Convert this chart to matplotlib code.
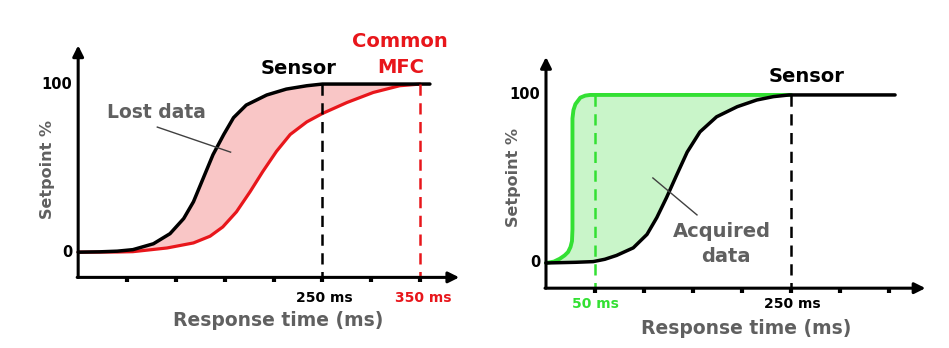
import matplotlib.pyplot as plt
import numpy as np

RED = "#e8161b"
GREEN = "#33e033"
GRAY = "#606060"

# left panel: sensor vs common MFC (time ms, setpoint %)
left_t_sensor = [0, 22, 40, 56, 77, 94, 108, 118, 128, 138, 149, 159, 172, 193, 213, 234, 250, 360]
left_sensor = [0, 0.2, 0.6, 1.5, 5, 11, 20, 30, 44, 58, 70, 80, 87.5, 93.5, 97, 99, 100, 100]
left_t_mfc = [0, 40, 56, 91, 118, 135, 148, 162, 176, 189, 203, 217, 234, 250, 275, 302, 329, 350]
left_mfc = [0, 0.1, 0.3, 2.5, 5.5, 9.5, 15, 24, 36, 48, 60, 70, 77.5, 82.5, 89, 95, 99, 100]

# right panel: fast device vs sensor
right_t_fast = [0, 8, 14, 19, 22.5, 25, 26.5, 27, 27, 27, 28, 30, 35, 40, 45, 250]
right_fast = [0, 0.8, 2.5, 4.5, 6.5, 9.5, 13, 20, 50, 86, 91, 94.5, 98.4, 99.6, 100, 100]
right_t_sensor = [0, 30, 48, 60, 72, 89, 103, 113, 123, 133, 144, 157, 174, 195, 215, 232, 248, 356]
right_sensor = [0, 0.4, 0.8, 2.2, 4.5, 9, 17, 27, 39, 52, 66, 78, 87, 93, 97, 99, 100, 100]

tick_ms = [50, 100, 150, 200, 250, 300, 350]

fig = plt.figure(figsize=(9.49, 3.48), dpi=100)
ax1 = fig.add_axes([0, 0, 469 / 949, 1])
ax2 = fig.add_axes([475 / 949, 0, 474 / 949, 1])
ax1.set_xlim(-80, 400)
ax1.set_ylim(-57, 150)
ax2.set_xlim(-72.4, 411)
ax2.set_ylim(-50.6, 156.5)
for ax in (ax1, ax2):
    ax.axis("off")

bold = dict(fontweight="bold", family="DejaVu Sans")


def draw_axes(ax, x_end, y_end, axis_v=-15):
    arrow = dict(arrowstyle="-|>", lw=2.2, color="black", mutation_scale=16,
                 shrinkA=0, shrinkB=0)
    ax.annotate("", xy=(0, y_end), xytext=(0, axis_v), arrowprops=arrow)
    ax.annotate("", xy=(x_end, axis_v), xytext=(-1, axis_v), arrowprops=arrow)
    ax.vlines(tick_ms, axis_v - 3, axis_v, color="black", lw=3)
    ax.text(-6, 100, "100", ha="right", va="center", fontsize=10.5, **bold)
    ax.text(-6, 0, "0", ha="right", va="center", fontsize=10.5, **bold)


# ---- left panel ----
draw_axes(ax1, 390, 123)
poly_x = np.concatenate([left_t_sensor[:-1], left_t_mfc[::-1]])
poly_y = np.concatenate([left_sensor[:-1], left_mfc[::-1]])
ax1.fill(poly_x, poly_y, color="#f9c6c6", lw=0)
ax1.plot(left_t_mfc, left_mfc, color=RED, lw=2.3, solid_capstyle="round", solid_joinstyle="round")
ax1.plot(left_t_sensor, left_sensor, color="black", lw=2.5, solid_capstyle="round", solid_joinstyle="round")
ax1.plot([250, 250], [100, -15], color="black", lw=1.8, dashes=(4.5, 3))
ax1.plot([350, 350], [100, -15], color=RED, lw=1.8, dashes=(4.5, 3))
ax1.plot([81, 156], [74.4, 59.5], color="#404040", lw=1)

ax1.text(-31, 49, "Setpoint %", rotation=90, ha="center", va="center",
         fontsize=11.5, color=GRAY, **bold)
ax1.text(205, -40.5, "Response time (ms)", ha="center", va="center",
         fontsize=13.5, color=GRAY, **bold)
ax1.text(252, -27, "250 ms", ha="center", va="center", fontsize=10, **bold)
ax1.text(353, -27, "350 ms", ha="center", va="center", fontsize=10, color=RED, **bold)
ax1.text(226, 109, "Sensor", ha="center", va="center", fontsize=14, **bold)
ax1.text(329, 125.6, "Common", ha="center", va="center", fontsize=14, color=RED, **bold)
ax1.text(330, 110, "MFC", ha="center", va="center", fontsize=14, color=RED, **bold)
ax1.text(80, 83, "Lost data", ha="center", va="center", fontsize=13.5, color=GRAY, **bold)

# ---- right panel ----
draw_axes(ax2, 387, 122.6)
poly_x = np.concatenate([right_t_fast, right_t_sensor[-2::-1]])
poly_y = np.concatenate([right_fast, right_sensor[-2::-1]])
ax2.fill(poly_x, poly_y, color="#c9f5c9", lw=0)
ax2.plot(right_t_fast, right_fast, color=GREEN, lw=2.8, solid_capstyle="round", solid_joinstyle="round")
ax2.plot(right_t_sensor, right_sensor, color="black", lw=2.5, solid_capstyle="round", solid_joinstyle="round")
ax2.plot([50, 50], [100, -15], color=GREEN, lw=1.8, dashes=(4.5, 3))
ax2.plot([250, 250], [100, -15], color="black", lw=1.8, dashes=(4.5, 3))
ax2.plot([109, 154], [50.6, 28.6], color="#404040", lw=1)

ax2.text(-33, 50.6, "Setpoint %", rotation=90, ha="center", va="center",
         fontsize=11.5, color=GRAY, **bold)
ax2.text(204, -39, "Response time (ms)", ha="center", va="center",
         fontsize=13.5, color=GRAY, **bold)
ax2.text(50, -24.4, "50 ms", ha="center", va="center", fontsize=10, color=GREEN, **bold)
ax2.text(251, -24.4, "250 ms", ha="center", va="center", fontsize=10, **bold)
ax2.text(266, 110.7, "Sensor", ha="center", va="center", fontsize=14, **bold)
ax2.text(179, 18.5, "Acquired", ha="center", va="center", fontsize=14, color=GRAY, **bold)
ax2.text(183, 4, "data", ha="center", va="center", fontsize=14, color=GRAY, **bold)

fig.savefig("out.png", dpi=100, facecolor="white")
